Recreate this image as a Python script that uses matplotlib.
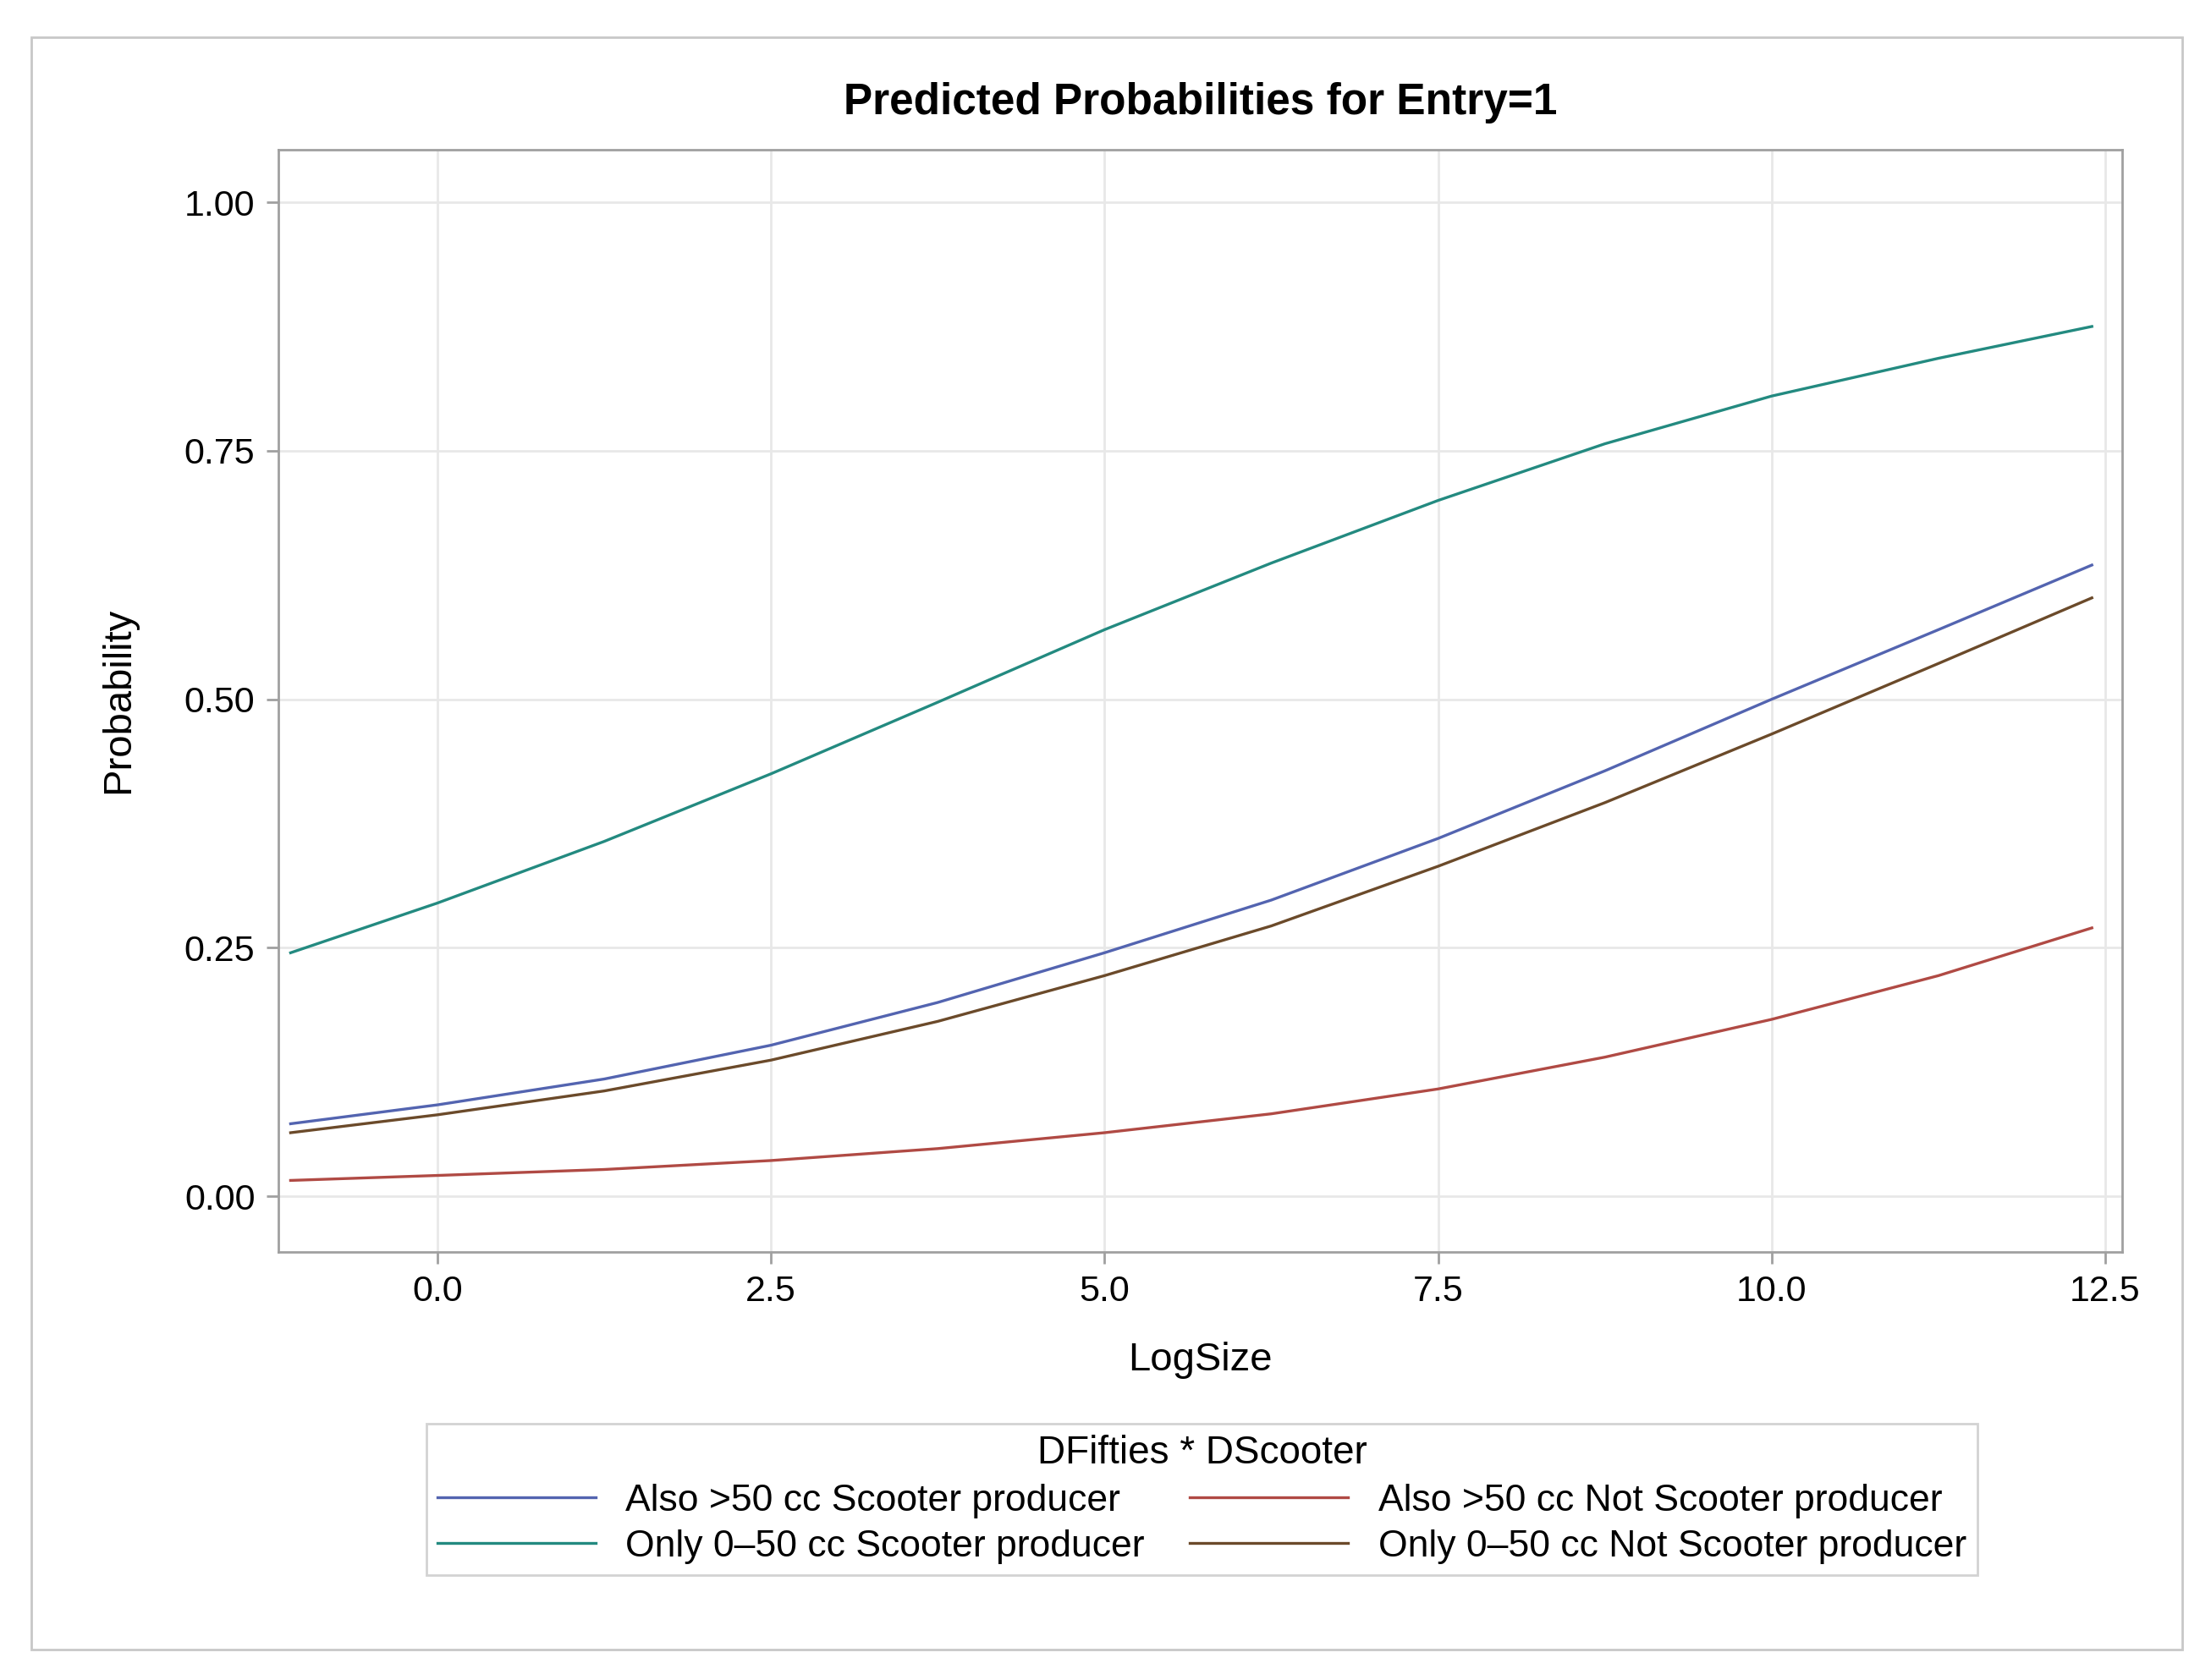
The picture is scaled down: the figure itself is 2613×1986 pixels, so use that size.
import matplotlib
matplotlib.use("Agg")
import matplotlib.pyplot as plt
from matplotlib.patches import Rectangle
import numpy as np

plt.rcParams['font.family'] = ['Liberation Sans', 'DejaVu Sans']

logsize = [-1.1, 0.0, 1.25, 2.5, 3.75, 5.0, 6.25, 7.5, 8.75, 10.0, 11.25, 12.4]
also_scooter = [0.073, 0.092, 0.118, 0.152, 0.195, 0.245, 0.298, 0.36, 0.428, 0.50, 0.57, 0.635]
also_not = [0.016, 0.021, 0.027, 0.036, 0.048, 0.064, 0.083, 0.108, 0.140, 0.178, 0.222, 0.27]
only_scooter = [0.245, 0.295, 0.357, 0.425, 0.497, 0.57, 0.637, 0.70, 0.757, 0.805, 0.843, 0.875]
only_not = [0.064, 0.082, 0.106, 0.137, 0.176, 0.222, 0.272, 0.332, 0.396, 0.465, 0.536, 0.602]

labels = ["Also >50 cc Scooter producer", "Only 0\u201350 cc Scooter producer",
          "Also >50 cc Not Scooter producer", "Only 0\u201350 cc Not Scooter producer"]
series = [also_scooter, only_scooter, also_not, only_not]
colors = ["#5364b0", "#238a80", "#b04a44", "#6b4a2a"]

fig = plt.figure(figsize=(26.13, 19.86), dpi=100)
fig.patches.append(Rectangle((0.014, 0.018), 0.973, 0.96, transform=fig.transFigure,
                             fill=False, edgecolor="#c8c8c8", lw=2))
ax = fig.add_axes([0.126, 0.255, 0.834, 0.656])
for y, c, l in zip(series, colors, labels):
    ax.plot(logsize, y, color=c, lw=2.4, label=l)
ax.set_xlim(-1.19, 12.63)
ax.set_ylim(-0.0556, 1.053)
ax.set_xticks([0, 2.5, 5, 7.5, 10, 12.5])
ax.set_xticklabels(["0.0", "2.5", "5.0", "7.5", "10.0", "12.5"])
ax.set_yticks([0, 0.25, 0.5, 0.75, 1.0])
ax.set_yticklabels(["0.00", "0.25", "0.50", "0.75", "1.00"])
ax.grid(True, color="#e8e8e8", lw=2)
ax.set_axisbelow(True)
for s in ax.spines.values():
    s.set_color("#a0a0a0"); s.set_linewidth(2)
ax.tick_params(labelsize=31, color="#a0a0a0", width=2, length=10, pad=10)
ax.set_xlabel("LogSize", fontsize=34, labelpad=28)
ax.set_ylabel("Probability", fontsize=34, labelpad=40)
ax.set_title("Predicted Probabilities for Entry=1", fontsize=37, fontweight="bold", pad=30)
leg = fig.legend(loc="center", bbox_to_anchor=(0.5436, 0.1075), ncol=2, fontsize=32,
                 title="DFifties * DScooter", title_fontsize=33, frameon=True, fancybox=False,
                 handlelength=4.2, columnspacing=1.2, borderpad=0.3, labelspacing=0.3)
leg.get_frame().set_edgecolor("#c8c8c8"); leg.get_frame().set_linewidth(2)
fig.savefig("out.png", dpi=100)
